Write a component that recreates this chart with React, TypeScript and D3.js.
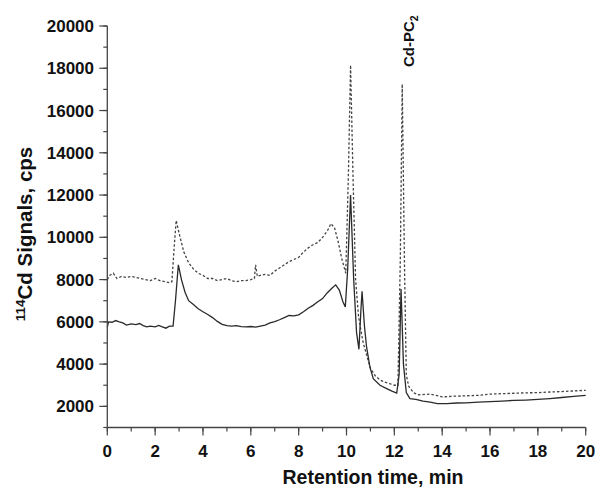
import React from "react";
import * as d3 from "d3";

// ---- data ----
const xTicks = [0, 2, 4, 6, 8, 10, 12, 14, 16, 18, 20];
const yTicks = [2000, 4000, 6000, 8000, 10000, 12000, 14000, 16000, 18000, 20000];
const xMinor = d3.range(0, 21, 1);
const yMinor = d3.range(1000, 20001, 1000);

const xTitle = "Retention time, min";
const yTitleSup = "114";
const yTitleMain = "Cd Signals, cps";
const peakLabel = "Cd-PC";
const peakLabelSub = "2";
const peakLabelTime = 12.3;

// solid trace: [time (min), signal (cps)]
const solidTrace: [number, number][] = [
  [0.0, 5750], [0.05, 6000], [0.2, 5980], [0.35, 6060], [0.5, 6000], [0.65, 5950],
  [0.8, 5850], [1.0, 5900], [1.2, 5870], [1.35, 5920], [1.5, 5820], [1.65, 5760],
  [1.8, 5800], [2.0, 5760], [2.15, 5830], [2.3, 5760], [2.45, 5700], [2.6, 5800],
  [2.75, 5800], [2.85, 7000], [2.97, 8700], [3.1, 8000], [3.25, 7400], [3.4, 7000],
  [3.6, 6820], [3.8, 6620], [4.0, 6480], [4.2, 6350], [4.4, 6200], [4.6, 6020],
  [4.8, 5880], [5.0, 5820], [5.2, 5800], [5.4, 5820], [5.6, 5770], [5.8, 5760],
  [6.0, 5780], [6.2, 5750], [6.4, 5800], [6.6, 5850], [6.8, 5950], [7.0, 6010],
  [7.2, 6100], [7.4, 6200], [7.6, 6300], [7.8, 6280], [8.0, 6330], [8.2, 6480],
  [8.4, 6640], [8.6, 6780], [8.8, 6950], [9.0, 7100], [9.2, 7380], [9.4, 7600],
  [9.55, 7750], [9.7, 7500], [9.85, 6950], [9.95, 6700], [10.05, 8500], [10.17, 12000],
  [10.3, 8000], [10.42, 5500], [10.52, 4700], [10.6, 6500], [10.65, 7450], [10.75, 5800],
  [10.84, 4800], [10.98, 3860], [11.12, 3310], [11.4, 3000], [11.68, 2840], [11.9, 2720],
  [12.1, 2630], [12.2, 3500], [12.28, 7550], [12.38, 4000], [12.5, 2650], [12.65, 2370],
  [12.9, 2330], [13.2, 2250], [13.5, 2200], [13.8, 2130], [14.2, 2130], [14.6, 2160],
  [15.0, 2170], [15.5, 2200], [16.0, 2220], [16.5, 2250], [17.0, 2280], [17.5, 2300],
  [18.0, 2330], [18.5, 2370], [19.0, 2420], [19.5, 2470], [20.0, 2520],
];

// dashed trace: [time (min), signal (cps)]
const dashedTrace: [number, number][] = [
  [0.0, 8000], [0.1, 8200], [0.25, 8300], [0.4, 8050], [0.6, 8150], [0.8, 8100],
  [1.0, 8150], [1.2, 8100], [1.4, 8050], [1.6, 8000], [1.8, 7950], [2.0, 8050],
  [2.2, 7950], [2.4, 7900], [2.6, 7850], [2.7, 7900], [2.8, 9600], [2.88, 10800],
  [3.0, 10200], [3.2, 9300], [3.4, 8800], [3.6, 8500], [3.8, 8300], [4.0, 8200],
  [4.2, 8050], [4.4, 8050], [4.6, 7950], [4.8, 8000], [5.0, 8050], [5.2, 7950],
  [5.4, 7900], [5.6, 7950], [5.8, 7950], [6.0, 8000], [6.15, 8050], [6.2, 8700],
  [6.27, 8150], [6.4, 8200], [6.6, 8250], [6.8, 8200], [7.0, 8400], [7.2, 8550],
  [7.4, 8700], [7.6, 8850], [7.8, 8950], [8.0, 9050], [8.2, 9300], [8.4, 9500],
  [8.6, 9650], [8.8, 9750], [9.0, 10000], [9.2, 10300], [9.35, 10650], [9.5, 10450],
  [9.65, 9800], [9.8, 9000], [9.97, 8300], [10.08, 13000], [10.17, 18150], [10.27, 13000],
  [10.38, 8000], [10.5, 6300], [10.6, 5600], [10.7, 5000], [10.85, 4400], [11.0, 3800],
  [11.2, 3450], [11.4, 3250], [11.6, 3150], [11.8, 3080], [12.0, 3000], [12.15, 3000],
  [12.25, 9000], [12.33, 17250], [12.42, 9000], [12.5, 3500], [12.6, 2950], [12.8, 2650],
  [13.0, 2550], [13.5, 2580], [14.0, 2450], [14.5, 2480], [15.0, 2500], [15.5, 2520],
  [16.0, 2580], [16.5, 2600], [17.0, 2620], [17.5, 2640], [18.0, 2650], [18.5, 2680],
  [19.0, 2700], [19.5, 2730], [20.0, 2760],
];

const FONT = "'Liberation Sans', Arial, Helvetica, sans-serif";

export default function App() {
  const W = 600;
  const H = 493;
  const x = d3.scaleLinear().domain([0, 20]).range([107.3, 585.7]);
  const y = d3.scaleLinear().domain([1000, 20000]).range([427.5, 26]);
  const line = d3
    .line<[number, number]>()
    .x((d) => x(d[0]))
    .y((d) => y(d[1]));

  const axisColor = "#444";
  const x0 = x(0);
  const y0 = y(1000);

  return (
    <svg
      width={W}
      height={H}
      viewBox={`0 0 ${W} ${H}`}
      style={{ position: "absolute", left: 0, top: 0, background: "#fff", display: "block" }}
    >
      <rect x={0} y={0} width={W} height={H} fill="#fff" />
      {/* traces */}
      <path
        d={line(dashedTrace) || ""}
        fill="none"
        stroke="#444"
        strokeWidth={1.3}
        strokeDasharray="2.5,2"
      />
      <path d={line(solidTrace) || ""} fill="none" stroke="#2a2a2a" strokeWidth={1.3} />

      {/* axes lines */}
      <line x1={x0} x2={x0} y1={y(20000)} y2={y0} stroke={axisColor} strokeWidth={1.3} />
      <line x1={x0} x2={x(20)} y1={y0} y2={y0} stroke={axisColor} strokeWidth={1.3} />

      {/* minor ticks */}
      {yMinor.map((v) => (
        <line key={"ym" + v} x1={x0 - 4} x2={x0} y1={y(v)} y2={y(v)} stroke={axisColor} strokeWidth={1.2} />
      ))}
      {xMinor.map((t) => (
        <line key={"xm" + t} x1={x(t)} x2={x(t)} y1={y0} y2={y0 + 4} stroke={axisColor} strokeWidth={1.2} />
      ))}
      {/* major ticks */}
      {yTicks.map((v) => (
        <line key={"yt" + v} x1={x0 - 8} x2={x0} y1={y(v)} y2={y(v)} stroke={axisColor} strokeWidth={1.2} />
      ))}
      {xTicks.map((t) => (
        <line key={"xt" + t} x1={x(t)} x2={x(t)} y1={y0} y2={y0 + 8} stroke={axisColor} strokeWidth={1.2} />
      ))}

      {/* tick labels */}
      {yTicks.map((v) => (
        <text
          key={"yl" + v}
          x={94}
          y={y(v)}
          dy="0.36em"
          textAnchor="end"
          fontFamily={FONT}
          fontWeight="bold"
          fontSize={17}
          fill="#111"
        >
          {v}
        </text>
      ))}
      {xTicks.map((t) => (
        <text
          key={"xl" + t}
          x={x(t)}
          y={457}
          textAnchor="middle"
          fontFamily={FONT}
          fontWeight="bold"
          fontSize={17}
          fill="#111"
        >
          {t}
        </text>
      ))}

      {/* axis titles */}
      <text
        x={373}
        y={484}
        textAnchor="middle"
        fontFamily={FONT}
        fontWeight="bold"
        fontSize={19.5}
        fill="#111"
      >
        {xTitle}
      </text>
      <text
        transform={`translate(32, 234) rotate(-90)`}
        textAnchor="middle"
        fontFamily={FONT}
        fontWeight="bold"
        fontSize={20.5}
        fill="#111"
      >
        <tspan fontSize={13.5} dy="-7">{yTitleSup}</tspan>
        <tspan dy="7">{yTitleMain}</tspan>
      </text>

      {/* peak annotation */}
      <text
        transform={`translate(${x(peakLabelTime) + 12}, 67) rotate(-90)`}
        textAnchor="start"
        fontFamily={FONT}
        fontWeight="bold"
        fontSize={15}
        fill="#111"
      >
        {peakLabel}
        <tspan fontSize={10.5} dy="4">{peakLabelSub}</tspan>
      </text>
    </svg>
  );
}
